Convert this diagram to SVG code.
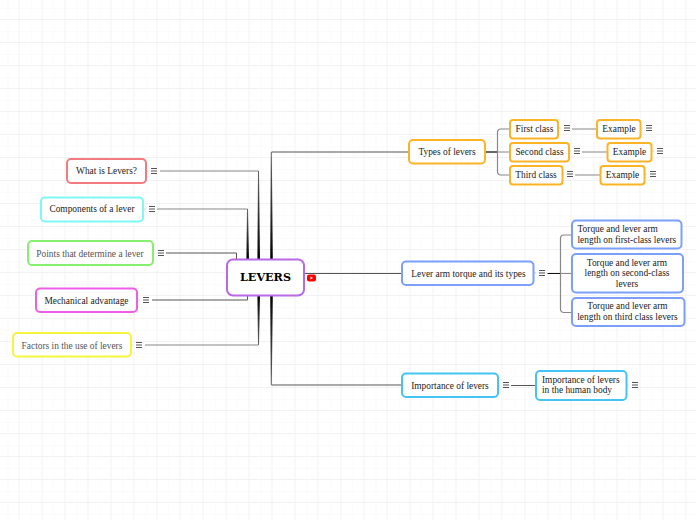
<svg xmlns="http://www.w3.org/2000/svg" width="696" height="520" viewBox="0 0 696 520">
<defs>
<pattern id="grid" x="7.5" y="8" width="23" height="23" patternUnits="userSpaceOnUse">
<path d="M0 0V23M0 0H23" fill="none" stroke="#f8f8f8" stroke-width="1"/>
<path d="M11.5 0V23M0 11.5H23" fill="none" stroke="#f2f2f2" stroke-width="1"/>
</pattern>
<linearGradient id="up" x1="0" y1="0" x2="0" y2="1"><stop offset="0" stop-color="#666"/><stop offset="1" stop-color="#000"/></linearGradient>
<linearGradient id="down" x1="0" y1="0" x2="0" y2="1"><stop offset="0" stop-color="#000"/><stop offset="1" stop-color="#666"/></linearGradient>
<symbol id="menu" width="8" height="8" viewBox="0 0 8 8" overflow="visible">
<circle cx="-3" cy="4" r="0.6" fill="#999"/>
<path d="M1 1.500H7M1 4H7M1 6.500H7" stroke="#555" stroke-width="1" fill="none"/>
</symbol>
</defs>
<style>
text{font-family:"Liberation Serif","Times New Roman",serif;font-size:9.4px;text-anchor:middle;fill:#222}
.n{fill:#fff;stroke-width:2}
.h{fill:none;stroke:#888;stroke-width:1.2}
.k{fill:none;stroke:#555;stroke-width:1}
.o{stroke:#fcb425}.b{stroke:#7b9ffb}.c{stroke:#45c4f3}
</style>
<rect width="696" height="520" fill="#fff"/>
<rect width="696" height="520" fill="url(#grid)"/>
<g id="connectors">
<path class="h" d="M160 171H258.500"/>
<path class="h" d="M157 209H247.500"/>
<path class="k" d="M166 253H236.500V260"/>
<path class="k" d="M152 300H247.500V295"/>
<path class="h" d="M145 345H258.500"/>
<path class="k" d="M271.500 152H408"/>
<path class="k" d="M271.500 385H401"/>
<path class="k" d="M304 273.500H401"/>
<path d="M258 171H259L260 260H257.400Z" fill="url(#up)"/>
<path d="M247 209H248L249 260H246.400Z" fill="url(#up)"/>
<path d="M257.400 295H260L259 345H258Z" fill="url(#down)"/>
<path d="M270.800 152H271.800L272.800 260H270.200Z" fill="url(#up)"/>
<path d="M270.200 295H272.800L271.800 385H270.800Z" fill="url(#down)"/>
<path d="M485 152H498" stroke="#333" stroke-width="1.500" fill="none"/>
<path class="h" d="M510 129H501Q497.500 129 497.500 132.500V171.500Q497.500 175 501 175H510M497.500 152H510"/>
<path class="h" d="M572 129H597M582 152H607M575 175H600"/>
<path d="M547.500 273.500H561" stroke="#111" stroke-width="1" fill="none"/>
<path class="h" d="M572 235H564Q560.500 235 560.500 238.500V309Q560.500 312.500 564 312.500H572M560.500 273.500H572"/>
<path class="k" d="M511 385.500H536"/>
</g>
<g id="menus">
<use href="#menu" x="150" y="167"/>
<use href="#menu" x="148" y="205"/>
<use href="#menu" x="157" y="249"/>
<use href="#menu" x="142" y="296"/>
<use href="#menu" x="135" y="341"/>
<use href="#menu" x="563" y="124"/>
<use href="#menu" x="573" y="147"/>
<use href="#menu" x="566" y="170"/>
<use href="#menu" x="645" y="124"/>
<use href="#menu" x="656" y="147"/>
<use href="#menu" x="649" y="170"/>
<use href="#menu" x="538" y="269"/>
<use href="#menu" x="502" y="381"/>
<use href="#menu" x="631" y="381"/>
</g>
<g id="youtube"><rect x="307" y="274.500" width="9" height="7" rx="2" fill="#f00"/><path d="M310.500 276.500L313 278L310.500 279.500Z" fill="#fff"/></g>
<g id="n-root"><rect class="n" x="227" y="259.500" width="77" height="36" rx="6" stroke="#b968e6"/><text x="265.500" y="281" style="font-family:'DejaVu Serif',serif;font-size:11.2px;font-weight:bold;fill:#000">LEVERS</text></g>
<g id="n-what"><rect class="n" x="67" y="159" width="79" height="24" rx="4" stroke="#f37b80"/><text x="106.500" y="174">What is Levers?</text></g>
<g id="n-components"><rect class="n" x="41" y="197.500" width="102" height="24" rx="4" stroke="#7ff7f3"/><text x="92" y="212">Components of a lever</text></g>
<g id="n-points"><rect class="n" x="28" y="241" width="125" height="24" rx="4" stroke="#86ef70"/><text x="90" y="256.500" style="fill:#555">Points that determine a lever</text></g>
<g id="n-mech"><rect class="n" x="36" y="288.500" width="101" height="23.500" rx="4" stroke="#ee5ce8"/><text x="86.500" y="303.500">Mechanical advantage</text></g>
<g id="n-factors"><rect class="n" x="13" y="333" width="118" height="23.500" rx="4" stroke="#f5f53f"/><text x="72" y="348.500" style="fill:#555">Factors in the use of levers</text></g>
<g id="n-types"><rect class="n o" x="409" y="140" width="76" height="23.500" rx="4"/><text x="447" y="155">Types of levers</text></g>
<g id="n-first"><rect class="n o" x="510" y="120" width="48" height="18.500" rx="3"/><text x="534.500" y="132">First class</text></g>
<g id="n-second"><rect class="n o" x="510" y="143" width="59" height="18.500" rx="3"/><text x="539.500" y="155">Second class</text></g>
<g id="n-third"><rect class="n o" x="510" y="166" width="52.500" height="18.500" rx="3"/><text x="536" y="178">Third class</text></g>
<g id="n-ex1"><rect class="n o" x="597" y="120" width="43.500" height="18.500" rx="3"/><text x="619" y="132">Example</text></g>
<g id="n-ex2"><rect class="n o" x="607.500" y="143" width="44" height="18.500" rx="3"/><text x="629.500" y="155">Example</text></g>
<g id="n-ex3"><rect class="n o" x="600.500" y="166" width="44" height="18.500" rx="3"/><text x="622.500" y="178">Example</text></g>
<g id="n-arm"><rect class="n b" x="402" y="261.500" width="131.500" height="23.500" rx="4"/><text x="468.500" y="276.500">Lever arm torque and its types</text></g>
<g id="n-t1"><rect class="n b" x="572" y="220.500" width="109.500" height="28" rx="4"/><text x="577.500" y="232" style="text-anchor:start">Torque and lever arm</text><text x="577.500" y="243" style="text-anchor:start">length on first-class levers</text></g>
<g id="n-t2"><rect class="n b" x="572" y="254" width="111" height="38.500" rx="4"/><text x="627" y="266">Torque and lever arm</text><text x="627" y="276">length on second-class</text><text x="627" y="287">levers</text></g>
<g id="n-t3"><rect class="n b" x="572" y="298" width="112.500" height="28" rx="4"/><text x="627.500" y="309">Torque and lever arm</text><text x="627.500" y="320">length on third class levers</text></g>
<g id="n-imp"><rect class="n c" x="402" y="373.500" width="96" height="23.500" rx="4"/><text x="450" y="388.500">Importance of levers</text></g>
<g id="n-imp2"><rect class="n c" x="536" y="371" width="90.500" height="29" rx="4"/><text x="542" y="383" style="text-anchor:start">Importance of levers</text><text x="542" y="393" style="text-anchor:start">in the human body</text></g>
</svg>
